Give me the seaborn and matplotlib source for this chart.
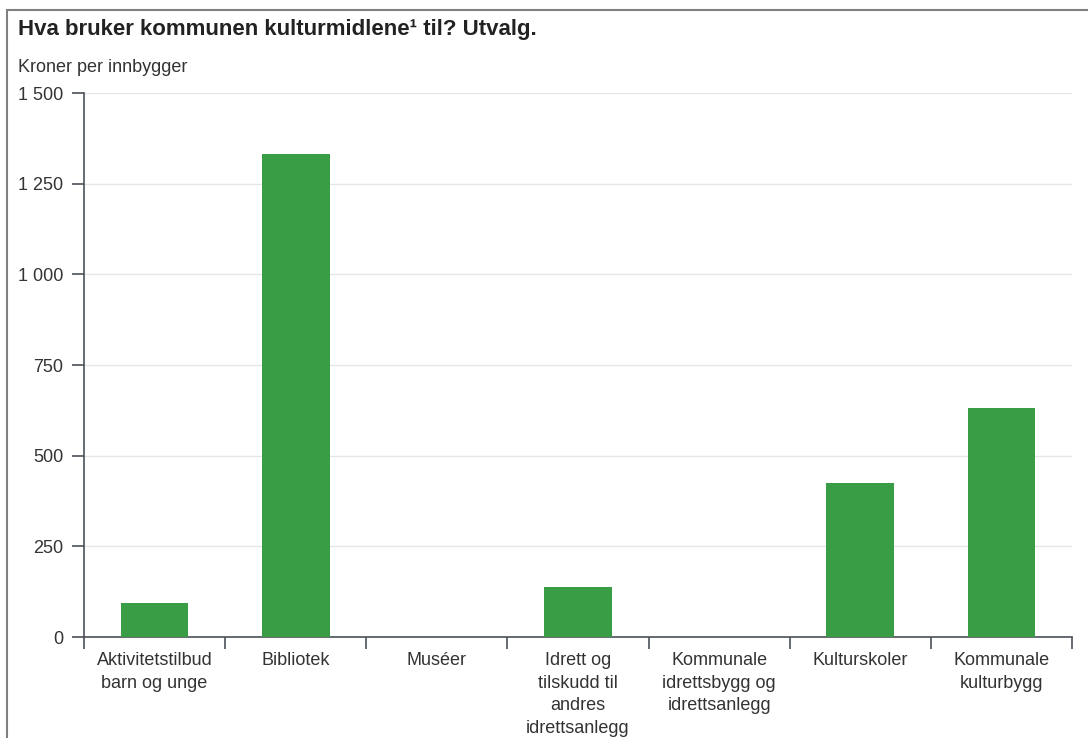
import matplotlib
matplotlib.use("Agg")
import matplotlib.pyplot as plt
import seaborn as sns
import pandas as pd
import numpy as np
from matplotlib.lines import Line2D
from matplotlib.ticker import FuncFormatter, FixedLocator

categories = [
    "Aktivitetstilbud\nbarn og unge",
    "Bibliotek",
    "Muséer",
    "Idrett og\ntilskudd til\nandres\nidrettsanlegg",
    "Kommunale\nidrettsbygg og\nidrettsanlegg",
    "Kulturskoler",
    "Kommunale\nkulturbygg",
]
values = [94, 1332, 0, 138, 0, 425, 631]
y_ticks = [0, 250, 500, 750, 1000, 1250, 1500]

title = "Hva bruker kommunen kulturmidlene¹ til? Utvalg."
ylabel = "Kroner per innbygger"

sns.set_style("white")
plt.rcParams["font.family"] = ["Liberation Sans", "DejaVu Sans"]

df = pd.DataFrame({"kategori": categories, "verdi": values})

fig = plt.figure(figsize=(10.88, 7.38), dpi=100)
ax = fig.add_axes([84 / 1088, 1 - 637 / 738, (1072 - 84) / 1088, (637 - 93) / 738])

sns.barplot(data=df, x="kategori", y="verdi", color="#399d45", width=0.48,
            saturation=1, ax=ax, zorder=3, linewidth=0)

ax.set_ylim(0, 1500)
ax.set_xlim(-0.5, len(categories) - 0.5)
ax.yaxis.set_major_locator(FixedLocator(y_ticks))
ax.yaxis.set_major_formatter(FuncFormatter(lambda v, p: f"{int(v):,}".replace(",", " ")))
ax.grid(axis="y", color="#e6e6e6", linewidth=1, zorder=0)
ax.set_axisbelow(True)

# x ticks at band boundaries, labels at centers
centers = np.arange(len(categories))
ax.set_xticks(centers)
ax.set_xticklabels(categories)
ax.tick_params(axis="x", which="major", bottom=True, length=0, pad=11, labelsize=13,
               labelcolor="#333333")
ax.set_xticks(np.arange(len(categories) + 1) - 0.5, minor=True)
ax.tick_params(axis="x", which="minor", bottom=True, length=8.5, width=1.2,
               color="#4a5258", direction="out")
ax.tick_params(axis="y", which="major", left=True, length=8.5, width=1.2, color="#4a5258",
               labelsize=13, labelcolor="#333333", pad=6.5, direction="out")
for lbl in ax.get_xticklabels():
    lbl.set_linespacing(1.42)

for s in ["top", "right"]:
    ax.spines[s].set_visible(False)
for s in ["left", "bottom"]:
    ax.spines[s].set_color("#4a5258")
    ax.spines[s].set_linewidth(1.2)

ax.set_xlabel("")
ax.set_ylabel("")

fig.text(18 / 1088, 1 - 30 / 738, title, fontsize=16, fontweight="bold",
         color="#222222", va="center", ha="left")
fig.text(18 / 1088, 1 - 67 / 738, ylabel, fontsize=13, color="#333333",
         va="center", ha="left")

# frame lines (top and left)
fig.add_artist(Line2D([7 / 1088, 1.0], [1 - 10 / 738, 1 - 10 / 738],
                      transform=fig.transFigure, color="#808080", linewidth=1.5))
fig.add_artist(Line2D([7 / 1088, 7 / 1088], [0, 1 - 10 / 738],
                      transform=fig.transFigure, color="#808080", linewidth=1.5))

fig.savefig("out.png", dpi=100)
